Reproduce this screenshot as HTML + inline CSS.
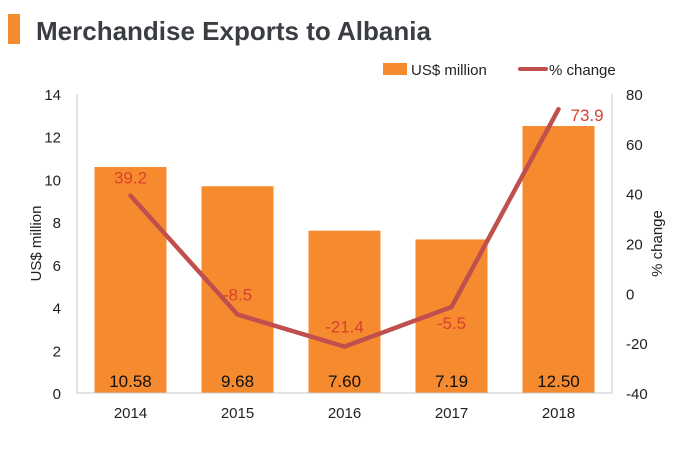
<!DOCTYPE html>
<html><head><meta charset="utf-8"><style>
body{margin:0;background:#fff;}
svg text{font-family:"Liberation Sans",Arial,sans-serif;}
</style></head><body>
<svg id="c" width="699" height="450" viewBox="0 0 699 450" xmlns="http://www.w3.org/2000/svg">
<rect x="8" y="14" width="12" height="30" fill="#f58a2e"/>
<text x="36" y="40" font-size="26" font-weight="bold" fill="#3a3d42">Merchandise Exports to Albania</text>
<g>
<rect x="383" y="63" width="24" height="12" fill="#f58a2e"/>
<text x="411" y="75" font-size="15" fill="#222">US$ million</text>
<line x1="520" y1="69" x2="546" y2="69" stroke="#c0504d" stroke-width="4" stroke-linecap="round"/>
<text x="549" y="75" font-size="15" fill="#222">% change</text>
</g>
<g id="plot"></g>
</svg>
<script>
const categories=["2014","2015","2016","2017","2018"];
const exportsValues=[10.58,9.68,7.60,7.19,12.50];
const exportsLabels=["10.58","9.68","7.60","7.19","12.50"];
const changeValues=[39.2,-8.5,-21.4,-5.5,73.9];
const leftTicks=[0,2,4,6,8,10,12,14];
const rightTicks=[-40,-20,0,20,40,60,80];

const NS="http://www.w3.org/2000/svg";
const g=document.getElementById('plot');
const X0=77,X1=612,Y0=393,Y1=94;
const step=(X1-X0)/categories.length;
const xC=i=>X0+step*(i+0.5);
const yL=v=>Y0-(v-0)/(14-0)*(Y0-Y1);
const yR=v=>Y0-(v+40)/(120)*(Y0-Y1);
function mk(t,a,txt){const e=document.createElementNS(NS,t);for(const k in a)e.setAttribute(k,a[k]);if(txt!==undefined)e.textContent=txt;g.appendChild(e);return e;}

// axes
let e=mk('line',{x1:X0,y1:Y1,x2:X0,y2:Y0,stroke:'#c8c8c8','stroke-width':1});

e=mk('line',{x1:X1,y1:Y1,x2:X1,y2:Y0,stroke:'#c8c8c8','stroke-width':1});


leftTicks.forEach(v=>{const t=mk('text',{x:X0-16,y:yL(v)+6,'font-size':15,'text-anchor':'end',fill:'#222'},String(v));
});
rightTicks.forEach(v=>{const t=mk('text',{x:X1+14,y:yR(v)+6,'font-size':15,'text-anchor':'start',fill:'#222'},String(v));
});

e=mk('text',{x:0,y:0,'font-size':15,'text-anchor':'middle',fill:'#222',transform:`translate(41,${(Y0+Y1)/2}) rotate(-90)`},'US$ million');

e=mk('text',{x:0,y:0,'font-size':15,'text-anchor':'middle',fill:'#222',transform:`translate(662,${(Y0+Y1)/2}) rotate(-90)`},'% change');


// bars
const bw=72;
exportsValues.forEach((v,i)=>{
 const r=mk('rect',{x:xC(i)-bw/2,y:yL(v),width:bw,height:Y0-yL(v),fill:'#f58a2e'});
 
 const t=mk('text',{x:xC(i),y:Y0-6,'font-size':17,'text-anchor':'middle',fill:'#111'},exportsLabels[i]);
 
 const c=mk('text',{x:xC(i),y:Y0+25,'font-size':15,'text-anchor':'middle',fill:'#222'},categories[i]);
 
});
e=mk('line',{x1:X0,y1:Y0,x2:X1,y2:Y0,stroke:'#c8c8c8','stroke-width':1});


// line
const pts=changeValues.map((v,i)=>xC(i)+','+yR(v)).join(' ');
e=mk('polyline',{points:pts,fill:'none',stroke:'#c0504d','stroke-width':4.5,'stroke-linejoin':'round','stroke-linecap':'round'});

changeValues.forEach((v,i)=>{
 let x=xC(i),y=yR(v)-12,anc='middle';
 if(i===3){y=yR(v)+22;}
 if(i===4){x=xC(i)+12;y=yR(v)+12;anc='start';}
 if(i===1||i===2){y=yR(v)-14;}
 const t=mk('text',{x:x,y:y,'font-size':17,'text-anchor':anc,fill:'#d9412f'},v.toFixed(1));
 
});
</script>
</body></html>
